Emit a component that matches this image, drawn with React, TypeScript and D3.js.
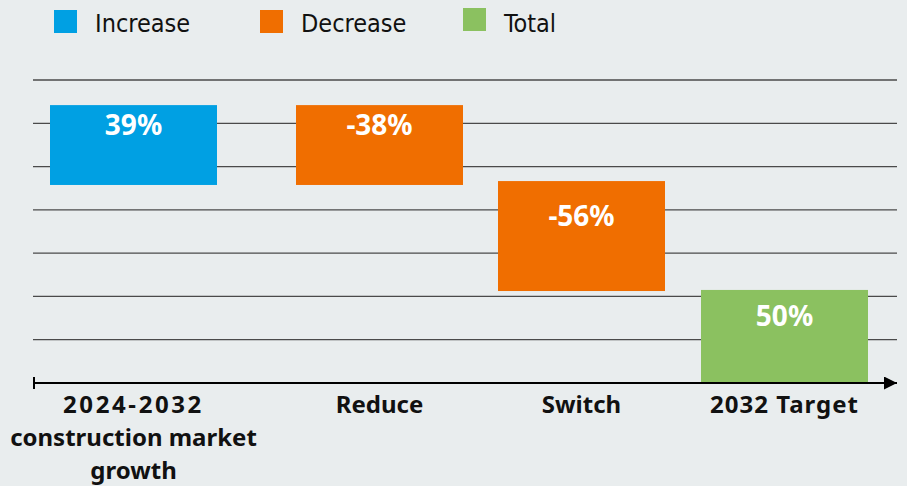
import React, { useEffect, useRef } from "react";
import * as d3 from "d3";

// chart values
const categories = ["growth2024", "Reduce", "Switch", "Target2032"];
const categoryLines = [
  ["2024-2032", "construction market", "growth"],
  ["Reduce"],
  ["Switch"],
  ["2032 Target"],
];
const valueLabels = ["39%", "-38%", "-56%", "50%"];
const barTops = [128.4, 128.4, 93.3, 43];
const barBases = [91.5, 91.5, 42.5, 0];
const barKinds = ["Increase", "Decrease", "Decrease", "Total"];
const legendKeys = ["Increase", "Decrease", "Total"];
const gridTicks = [0, 20, 40, 60, 80, 100, 120, 140];

const App: React.FC = () => {
  const svgRef = useRef<SVGSVGElement | null>(null);

  useEffect(() => {
    const width = 907;
    const height = 486;
    const margin = { top: 80, right: 10, bottom: 103, left: 33 };
    const barWidth = 167;

    const svg = d3.select(svgRef.current);
    svg.selectAll("*").remove();
    svg.attr("width", width).attr("height", height);

    svg
      .append("rect")
      .attr("width", width)
      .attr("height", height)
      .attr("fill", "#e9edee");

    const color = d3
      .scaleOrdinal<string, string>()
      .domain(legendKeys)
      .range(["#00a0e3", "#f06e00", "#8bc160"]);

    // band centres are not evenly spaced in the original
    const x = d3
      .scaleOrdinal<string, number>()
      .domain(categories)
      .range([133.5, 379.5, 581.5, 784.5]);

    const y = d3
      .scaleLinear()
      .domain([0, 140])
      .range([height - margin.bottom, margin.top]);

    // Gridlines
    svg
      .append("g")
      .selectAll("line")
      .data(gridTicks.slice(1))
      .join("line")
      .attr("x1", margin.left)
      .attr("x2", width - margin.right)
      .attr("y1", d => y(d))
      .attr("y2", d => y(d))
      .attr("stroke", "#4a4a4a")
      .attr("stroke-width", 1.3);

    // Bars
    svg
      .append("g")
      .selectAll("rect")
      .data(categories)
      .join("rect")
      .attr("x", (d) => x(d) - barWidth / 2)
      .attr("y", (_, i) => y(barTops[i]))
      .attr("width", barWidth)
      .attr("height", (_, i) => y(barBases[i]) - y(barTops[i]))
      .attr("fill", (_, i) => color(barKinds[i]));

    // Value labels
    svg
      .append("g")
      .selectAll("text")
      .data(categories)
      .join("text")
      .attr("x", d => x(d))
      .attr("y", (_, i) => (y(barTops[i]) + y(barBases[i])) / 2 - 10)
      .attr("text-anchor", "middle")
      .attr("font-family", "'Noto Sans', sans-serif")
      .attr("font-weight", 700)
      .attr("font-size", "28px")
      .attr("fill", "white")
      .text((_, i) => valueLabels[i]);

    // X Axis with arrow
    const axisY = y(0);
    svg
      .append("defs")
      .append("marker")
      .attr("id", "arrow")
      .attr("viewBox", "0 0 10 10")
      .attr("refX", 10)
      .attr("refY", 5)
      .attr("markerUnits", "userSpaceOnUse")
      .attr("markerWidth", 18)
      .attr("markerHeight", 13)
      .attr("orient", "auto")
      .append("path")
      .attr("d", "M0,0L10,5L0,10z")
      .attr("fill", "#000");

    svg
      .append("line")
      .attr("x1", margin.left)
      .attr("x2", width - margin.right)
      .attr("y1", axisY)
      .attr("y2", axisY)
      .attr("stroke", "#000")
      .attr("stroke-width", 2.2)
      .attr("marker-end", "url(#arrow)");

    svg
      .append("line")
      .attr("x1", margin.left + 1)
      .attr("x2", margin.left + 1)
      .attr("y1", axisY - 6)
      .attr("y2", axisY + 6)
      .attr("stroke", "#000")
      .attr("stroke-width", 2);

    // Category labels
    const catLabels = svg
      .append("g")
      .selectAll("text")
      .data(categories)
      .join("text")
      .attr("text-anchor", "middle")
      .attr("font-family", "'Noto Sans', sans-serif")
      .attr("font-weight", 700)
      .attr("font-size", "24px")
      .attr("fill", "#111");

    catLabels
      .selectAll("tspan")
      .data((_, i) => categoryLines[i].map(line => ({ line, cx: x(categories[i]) })))
      .join("tspan")
      .attr("x", d => d.cx)
      .attr("y", (_, j) => axisY + 30 + j * 33)
      // digits are wider in the original typeface
      .attr("letter-spacing", d => (/^\d/.test(d.line) ? (d.line.includes(" ") ? 1 : 2.6) : 0))
      .text(d => d.line);

    // Legend
    const legendX = [54, 260, 463];
    const legend = svg.append("g");
    legendKeys.forEach((key, i) => {
      legend
        .append("rect")
        .attr("x", legendX[i])
        .attr("y", i === 2 ? 8 : 10)
        .attr("width", 23)
        .attr("height", 23)
        .attr("fill", color(key));

      legend
        .append("text")
        .attr("x", legendX[i] + 41)
        .attr("y", 32)
        .attr("font-family", "'Liberation Sans Narrow', 'DejaVu Sans Condensed', sans-serif")
        .attr("font-size", "25px")
        .attr("fill", "#111")
        .text(key);
    });
  }, []);

  return <svg ref={svgRef} style={{ position: "absolute", left: 0, top: 0 }}></svg>;
};

export default App;
